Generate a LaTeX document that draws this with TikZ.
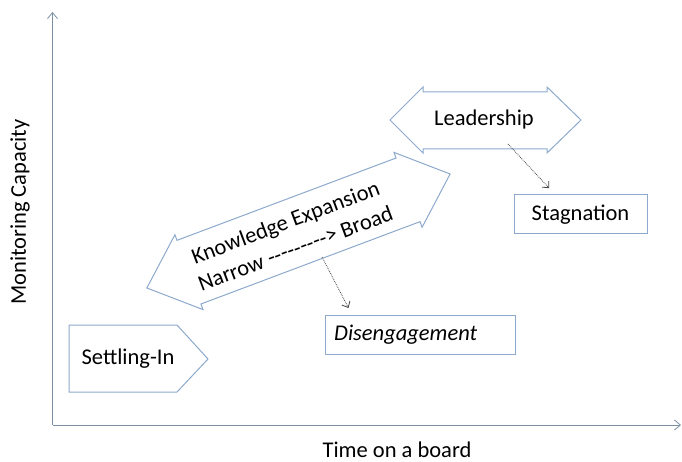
\documentclass[tikz,border=0pt]{standalone}
\usepackage{fontspec}
\setmainfont{Carlito}
\usetikzlibrary{arrows.meta}
\definecolor{axiscol}{RGB}{125,145,165}
\definecolor{boxcol}{RGB}{141,170,205}
\definecolor{dotcol}{RGB}{70,70,70}
\newcommand\hy{\mbox{-}}
\tikzset{
  axisline/.style={draw=axiscol, line width=1pt, -{Straight Barb[length=6pt,width=10pt,line width=0.8pt]}},
  shapeline/.style={draw=boxcol, line width=1pt, fill=white},
  lbl/.style={font=\fontsize{22.5}{26}\selectfont, text=black, inner sep=0pt},
  dotarrow/.style={draw=dotcol, line width=0.8pt, densely dotted, -{Straight Barb[length=5pt,width=9pt,line width=0.8pt,sep]}},
}
\begin{document}
\begin{tikzpicture}[x=1pt,y=-1pt]
\useasboundingbox (0,0) rectangle (682,462);
% axes
\coordinate (o) at (52.5,425);
\coordinate (ytop) at (52.5,12);
\coordinate (xend) at (681,425);
\draw[axisline] (o) -- (ytop);
\draw[axisline] (o) -- (xend);
\node[lbl, rotate=90] (ylab) at (20,212) {Monitoring Capacity};
\node[lbl] (xlab) at (397,450) {Time on a board};
% Settling-In
\draw[shapeline] (69,325) -- (177,325) -- (208,359) -- (177,392) -- (69,392) -- cycle;
\node[lbl] (settle) at (128,359) {Settling-In};
% Knowledge expansion
\begin{scope}[shift={(298.5,231)}, rotate=20.6]
\draw[shapeline] (-162,0) -- (-117,-40) -- (-117,-34) -- (117,-34) -- (117,-40) -- (162,0)
  -- (117,40) -- (117,34) -- (-117,34) -- (-117,40) -- cycle;
\node[lbl, align=center, rotate=20.6] (know) at (-9,1) {Knowledge Expansion\\[2pt]Narrow \hy\hy\hy\hy\hy\hy\hy\hy\hy> Broad};
\end{scope}
% Leadership
\draw[shapeline] (390,120) -- (423,87) -- (423,92) -- (547,92) -- (547,87) -- (581,120)
  -- (547,153) -- (547,149) -- (423,149) -- (423,153) -- cycle;
\node[lbl] (lead) at (484,120) {Leadership};
% Stagnation
\draw[shapeline] (514,195) rectangle (647,234);
\node[lbl] (stag) at (580.5,214.5) {Stagnation};
% Disengagement
\draw[shapeline] (325,315) rectangle (515,354);
\node[lbl, anchor=west] (dis) at (334,334.5) {\itshape Disengagement};
% dotted arrows
\coordinate (k1) at (322,257);
\coordinate (d1) at (349,309);
\coordinate (l1) at (508,144);
\coordinate (s1) at (550,189);
\draw[dotarrow] (k1) -- (d1);
\draw[dotarrow] (l1) -- (s1);
\end{tikzpicture}
\end{document}
